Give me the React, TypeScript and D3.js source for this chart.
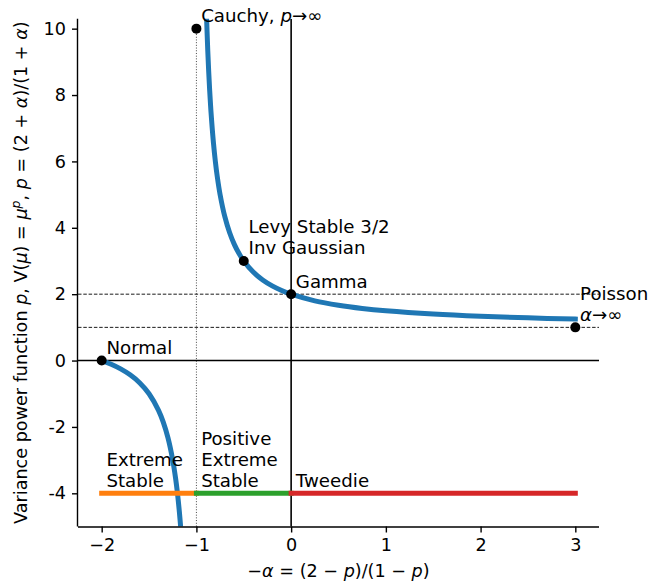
import React, { useEffect, useRef } from 'react';
import * as d3 from 'd3';

// upper branch of the curve (x, p)
const upperX = [-0.893, -0.88, -0.87, -0.86, -0.85, -0.84, -0.82, -0.8, -0.78, -0.75, -0.7, -0.65, -0.6, -0.55, -0.5, -0.4, -0.3, -0.2, -0.1, 0, 0.25, 0.5, 0.75, 1, 1.5, 2, 2.5, 3];
const upperP = [10.35, 9.333, 8.692, 8.143, 7.667, 7.25, 6.556, 6, 5.545, 5, 4.333, 3.857, 3.5, 3.222, 3, 2.667, 2.429, 2.25, 2.111, 2, 1.8, 1.667, 1.571, 1.5, 1.4, 1.333, 1.286, 1.25];

// lower branch
const lowerX = [-2, -1.9, -1.8, -1.7, -1.6, -1.5, -1.4, -1.35, -1.3, -1.25, -1.22, -1.2, -1.18, -1.165];
const lowerP = [0, -0.111, -0.25, -0.429, -0.667, -1, -1.5, -1.857, -2.333, -3, -3.545, -4, -4.556, -5.06];

// marked distributions
const pointX = [-1, -0.5, 0, -2, 3];
const pointP = [10, 3, 2, 0, 1];
const pointLabels = [['Cauchy, p→∞'], ['Levy Stable 3/2', 'Inv Gaussian'], ['Gamma'], ['Normal'], ['Poisson', 'α→∞']];

// regions along p = -4
const regionStart = [-2, -1, 0];
const regionEnd = [-1, 0, 3];
const regionColors = ['#ff7f0e', '#2ca02c', '#d62728'];
const regionLabels = [['Extreme', 'Stable'], ['Positive', 'Extreme', 'Stable'], ['Tweedie']];

const xTicks = [-2, -1, 0, 1, 2, 3];
const xTickLabels = ['−2', '−1', '0', '1', '2', '3'];
const yTicks = [-4, -2, 0, 2, 4, 6, 8, 10];
const yTickLabels = ['-4', '-2', '0', '2', '4', '6', '8', '10'];

const W = 649, H = 585;
const FONT = 'DejaVu Sans';

// write a string into a text node, putting p, α, μ in italics
function mathText(sel: any, str: string) {
  for (const ch of str) {
    const t = sel.append('tspan').text(ch);
    if (ch === 'p' && /p/.test(ch) && sel.attr('data-math') === '1') t.style('font-style', 'italic');
    if (ch === 'α' || ch === 'μ') t.style('font-style', 'italic');
  }
}

export default function App() {
  const ref = useRef<SVGSVGElement>(null);

  useEffect(() => {
    const svg = d3.select(ref.current);
    svg.selectAll('*').remove();

    const left = 78, right = 599, top = 18.7, bottom = 526.5;
    const x = d3.scaleLinear().domain([-2.25, 3.25]).range([left, right]);
    const y = d3.scaleLinear().domain([-5, 10.3]).range([bottom, top]);

    svg.append('defs').append('clipPath').attr('id', 'plot-clip')
      .append('rect').attr('x', left).attr('y', top).attr('width', right - left).attr('height', bottom - top);

    const plot = svg.append('g').attr('clip-path', 'url(#plot-clip)');

    // reference lines
    plot.append('line').attr('x1', x(-1)).attr('x2', x(-1)).attr('y1', y(10)).attr('y2', y(-5))
      .attr('stroke', '#333').attr('stroke-width', 0.9).attr('stroke-dasharray', '1,1.7');
    [2, 1].forEach(v => {
      plot.append('line').attr('x1', left).attr('x2', right).attr('y1', y(v)).attr('y2', y(v))
        .attr('stroke', '#000').attr('stroke-width', 0.9).attr('stroke-dasharray', '3.5,1.8');
    });
    plot.append('line').attr('x1', left).attr('x2', right).attr('y1', y(0)).attr('y2', y(0))
      .attr('stroke', '#000').attr('stroke-width', 1.6);
    plot.append('line').attr('x1', x(0)).attr('x2', x(0)).attr('y1', top).attr('y2', bottom)
      .attr('stroke', '#000').attr('stroke-width', 1.6);

    // curve
    const line = d3.line<[number, number]>().x(d => x(d[0])).y(d => y(d[1])).curve(d3.curveCatmullRom);
    [d3.zip(upperX, upperP), d3.zip(lowerX, lowerP)].forEach(pts => {
      plot.append('path').attr('d', line(pts as [number, number][]))
        .attr('fill', 'none').attr('stroke', '#1f77b4').attr('stroke-width', 5)
        .attr('stroke-linecap', 'square');
    });

    // regions
    regionStart.forEach((s, i) => {
      plot.append('line').attr('x1', x(s)).attr('x2', x(regionEnd[i])).attr('y1', y(-4)).attr('y2', y(-4))
        .attr('stroke', regionColors[i]).attr('stroke-width', 5).attr('stroke-linecap', 'square');
    });

    // points
    svg.selectAll('circle.pt').data(pointX).enter().append('circle')
      .attr('cx', d => x(d)).attr('cy', (d, i) => y(pointP[i])).attr('r', 5).attr('fill', '#000');

    const labelSize = 18.2, lineGap = 21;
    const drawLabel = (lines: string[], lx: number, ly: number) => {
      const t = svg.append('text').attr('font-family', FONT).attr('font-size', labelSize).attr('fill', '#000');
      lines.forEach((ln, k) => {
        const row = t.append('tspan').attr('x', x(lx + 0.05)).attr('y', y(ly + 0.2) - (lines.length - 1 - k) * lineGap);
        for (const ch of ln) {
          const s = row.append('tspan').text(ch);
          if (ch === 'α' || (ch === 'p' && ln.startsWith('Cauchy') && ln.indexOf('p') === ln.lastIndexOf(', p') + 2)) s.style('font-style', 'italic');
        }
      });
    };
    pointLabels.forEach((lines, i) => drawLabel(lines, pointX[i], pointP[i]));
    regionLabels.forEach((lines, i) => drawLabel(lines, regionStart[i], -4));

    // axes
    const tickSize = 17.6;
    const gx = svg.append('g').attr('transform', `translate(0,${bottom})`);
    gx.call(d3.axisBottom(x).tickValues(d3.range(-2, 3.01, 0.5)).tickSize(3.5).tickFormat(() => ''));
    gx.call(d3.axisBottom(x).tickValues(xTicks).tickSize(6).tickPadding(6)
      .tickFormat((d, i) => xTickLabels[i]) as any);
    gx.selectAll('path.domain').attr('d', `M${left},0.5H${right}`).attr('stroke-width', 1.4);
    gx.selectAll('line').attr('stroke-width', 1.4);
    gx.selectAll('text').attr('font-family', FONT).attr('font-size', tickSize).attr('fill', '#000');

    const gy = svg.append('g').attr('transform', `translate(${left},0)`);
    gy.call(d3.axisLeft(y).tickValues(d3.range(-5, 10.01, 0.5)).tickSize(3.5).tickFormat(() => ''));
    gy.call(d3.axisLeft(y).tickValues(yTicks).tickSize(6).tickPadding(6)
      .tickFormat((d, i) => yTickLabels[i]) as any);
    gy.selectAll('path.domain').attr('d', `M-0.5,${bottom}V${top}`).attr('stroke-width', 1.4);
    gy.selectAll('line').attr('stroke-width', 1.4);
    gy.selectAll('text').attr('font-family', FONT).attr('font-size', tickSize).attr('fill', '#000');

    // axis titles
    const xl = svg.append('text').attr('x', (left + right) / 2).attr('y', 577)
      .attr('text-anchor', 'middle').attr('font-family', FONT).attr('font-size', tickSize);
    xl.append('tspan').text('−');
    xl.append('tspan').text('α').style('font-style', 'italic');
    xl.append('tspan').text(' = (2 − ');
    xl.append('tspan').text('p').style('font-style', 'italic');
    xl.append('tspan').text(')/(1 − ');
    xl.append('tspan').text('p').style('font-style', 'italic');
    xl.append('tspan').text(')');

    const yl = svg.append('text').attr('transform', `translate(27,${(top + bottom) / 2}) rotate(-90)`)
      .attr('text-anchor', 'middle').attr('font-family', FONT).attr('font-size', tickSize);
    yl.append('tspan').text('Variance power function ');
    yl.append('tspan').text('p').style('font-style', 'italic');
    yl.append('tspan').text(', V(');
    yl.append('tspan').text('μ').style('font-style', 'italic');
    yl.append('tspan').text(') = ');
    yl.append('tspan').text('μ').style('font-style', 'italic');
    yl.append('tspan').text('p').style('font-style', 'italic').attr('font-size', 12.5).attr('dy', -7);
    yl.append('tspan').text(', ').attr('dy', 7);
    yl.append('tspan').text('p').style('font-style', 'italic');
    yl.append('tspan').text(' = (2 + ');
    yl.append('tspan').text('α').style('font-style', 'italic');
    yl.append('tspan').text(')/(1 + ');
    yl.append('tspan').text('α').style('font-style', 'italic');
    yl.append('tspan').text(')');
  }, []);

  return (
    <svg ref={ref} width={W} height={H}
      style={{ position: 'absolute', left: 0, top: 0, background: '#fff' }} />
  );
}
